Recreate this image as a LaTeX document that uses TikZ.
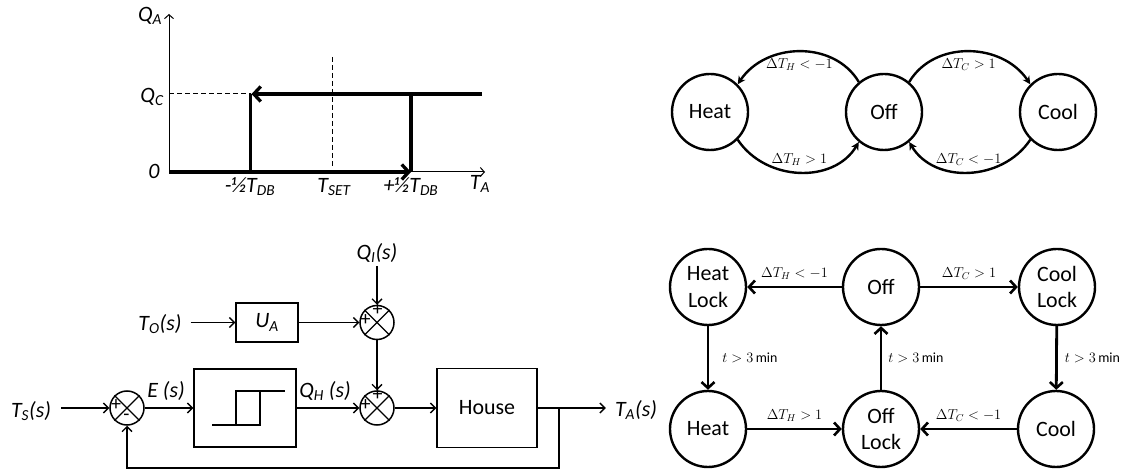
\documentclass[tikz,border=0pt]{standalone}
\usepackage{fontspec}
\setmainfont{Carlito}
\usetikzlibrary{arrows.meta}
\begin{document}
\begin{tikzpicture}[x=1bp,y=-1bp,
  state/.style={circle, draw, line width=2.4bp, minimum size=76bp, inner sep=0pt, align=center, font=\fontsize{22}{27}\selectfont},
  trans/.style={line width=2.8bp, -{Straight Barb[length=6bp,width=13bp,line width=2.6bp]}},
  ctrans/.style={line width=2.4bp, -{Stealth[length=8bp,width=8bp]}},
  lbl/.style={font=\fontsize{14}{14}\selectfont, inner sep=1bp},
  txt/.style={font=\fontsize{22}{22}\selectfont\itshape, inner sep=0pt},
  blk/.style={draw, line width=1.5bp, inner sep=0pt},
  sig/.style={line width=1.4bp, -{Straight Barb[length=5bp,width=10bp,line width=1.4bp]}},
  sline/.style={line width=1.4bp},
  sumj/.style={circle, draw, line width=1.5bp, minimum size=34bp, inner sep=0pt},
  sgn/.style={font=\fontsize{20}{20}\selectfont, inner sep=0pt},
  axis/.style={line width=1bp, -{Straight Barb[length=4bp,width=9bp,line width=1bp]}},
  hyst/.style={line width=3.3bp},
  hysta/.style={line width=3.3bp, -{Straight Barb[length=7bp,width=15bp,line width=3.3bp]}},
  guide/.style={line width=1bp, dashed, dash pattern=on 5bp off 3bp}
]
\useasboundingbox (0,0) rectangle (1138,470);

% ---------------- hysteresis plot ----------------
\coordinate (org) at (169,172);
\coordinate (ytop) at (169,14);
\coordinate (xend) at (485,172);
\coordinate (qcl) at (169,94);
\coordinate (lo) at (250.5,172);
\coordinate (lu) at (250.5,94);
\coordinate (ro) at (411,172);
\coordinate (ru) at (411,94);
\coordinate (qcend) at (482,94);
\coordinate (st) at (332,57);
\coordinate (sb) at (332,168);
\draw[axis] (org) -- (ytop);
\draw[axis] (org) -- (xend);
\draw[guide] (qcl) -- (lu);
\draw[guide] (st) -- (sb);
\draw[hyst] (lu) -- (lo);
\draw[hyst] (ru) -- (ro);
\draw[hysta] (qcend) -- ([xshift=1bp]lu);
\draw[hysta] (org) -- (ro);
\node[txt] (qa) at (150,16) {Q\textsubscript{A}};
\node[txt] (qc) at (152,97) {Q\textsubscript{C}};
\node[txt] (zero) at (154,171) {0};
\node[txt] (tdbm) at (250,187) {-½T\textsubscript{DB}};
\node[txt] (tset) at (334,187) {T\textsubscript{SET}};
\node[txt] (tdbp) at (411,187) {+½T\textsubscript{DB}};
\node[txt] (ta) at (480,184) {T\textsubscript{A}};

% ---------------- top-right state diagram ----------------
\node[state] (heat) at (710,112) {Heat};
\node[state] (off) at (884,112) {Off};
\node[state] (cool) at (1058,112) {Cool};
\draw[ctrans] (off.130) .. controls +(-25,-42) and +(28,-42) .. (heat.45)
  node[lbl, midway, below=5bp] {$\Delta T_H < -1$};
\draw[ctrans] (heat.-45) .. controls +(28,42) and +(-25,42) .. (off.-130)
  node[lbl, midway, above=5bp] {$\Delta T_H > 1$};
\draw[ctrans] (off.50) .. controls +(25,-42) and +(-28,-42) .. (cool.135)
  node[lbl, midway, below=5bp] {$\Delta T_C > 1$};
\draw[ctrans] (cool.-135) .. controls +(-28,42) and +(25,42) .. (off.-50)
  node[lbl, midway, above=5bp] {$\Delta T_C < -1$};

% ---------------- block diagram ----------------
\node[txt] (tolbl) at (160,324) {T\textsubscript{O}(s)};
\node[txt] (tslbl) at (31,411) {T\textsubscript{S}(s)};
\node[txt] (elbl) at (166,391) {E (s)};
\node[txt] (qhlbl) at (325,391) {Q\textsubscript{H} (s)};
\node[txt] (qilbl) at (377,253) {Q\textsubscript{I}(s)};
\node[txt] (talbl) at (636,410) {T\textsubscript{A}(s)};
\node[blk, minimum width=62bp, minimum height=39bp, font=\fontsize{22}{22}\selectfont\itshape] (ua) at (267,322.5) {U\textsubscript{A}};
\node[blk, minimum width=102bp, minimum height=78bp] (relay) at (245,408) {};
\node[blk, minimum width=100bp, minimum height=79bp, font=\fontsize{22}{22}\selectfont] (house) at (487,408) {House};
\node[sumj] (s0) at (127,408) {};
\node[sumj] (s1) at (377,322.5) {};
\node[sumj] (s2) at (377,408) {};
\foreach \s in {s0,s1,s2}{
  \draw[sline] (\s.45) -- (\s.225) (\s.135) -- (\s.-45);
}
\node[sgn] (p0) at (116,405.5) {+};
\node[sgn] (m0) at (126.5,417.5) {-};
\node[sgn] (p1t) at (377.5,310) {+};
\node[sgn] (p1l) at (365.5,320.5) {+};
\node[sgn] (p2t) at (377.5,395) {+};
\node[sgn] (p2l) at (365.5,405.5) {+};
% relay symbol
\draw[sline] ([shift={(-33,17)}]relay.center) -- ([shift={(15,17)}]relay.center) -- ([shift={(15,-17)}]relay.center);
\draw[sline] ([shift={(-9,17)}]relay.center) -- ([shift={(-9,-17)}]relay.center) -- ([shift={(40,-17)}]relay.center);
% signals
\draw[sig] ([xshift=9bp]ua.west -| tolbl.east) -- (ua.west);
\draw[sig] ([xshift=10bp]s0.west -| tslbl.east) -- (s0.west);
\draw[sig] (s0.east) -- (relay.west);
\draw[sig] (relay.east) -- (s2.west);
\draw[sig] (s2.east) -- (house.west);
\draw[sig] (ua.east) -- (s1.west);
\draw[sig] ([yshift=-3bp]qilbl.south) -- (s1.north);
\draw[sig] (s1.south) -- (s2.north);
\draw[sig] (house.east) -- ([xshift=-9bp]talbl.west |- house.east);
\coordinate (br) at (559,408);
\coordinate (fb) at (559,468);
\draw[sig] (br) -- (fb) -| (s0.south);

% ---------------- bottom-right state diagram ----------------
\node[state] (hl) at (708,287) {Heat\\Lock};
\node[state] (of2) at (881,287) {Off};
\node[state] (cl) at (1057,287) {Cool\\Lock};
\node[state] (ht2) at (708,429) {Heat};
\node[state] (ol) at (881,429) {Off\\Lock};
\node[state] (cl2) at (1056,429) {Cool};
\draw[trans] (of2) -- (hl) node[lbl, midway, above=5bp] {$\Delta T_H < -1$};
\draw[trans] (of2) -- (cl) node[lbl, midway, above=5bp] {$\Delta T_C > 1$};
\draw[trans] (hl) -- (ht2) node[lbl, midway, right=12bp] {$t > 3\,\mathrm{min}$};
\draw[trans] (ol) -- (of2) node[lbl, midway, right=5bp] {$t > 3\,\mathrm{min}$};
\draw[trans] (cl) -- (cl2) node[lbl, midway, right=6bp] {$t > 3\,\mathrm{min}$};
\draw[trans] (ht2) -- (ol) node[lbl, midway, above=5bp] {$\Delta T_H > 1$};
\draw[trans] (cl2) -- (ol) node[lbl, midway, above=5bp] {$\Delta T_C < -1$};
\end{tikzpicture}
\end{document}
